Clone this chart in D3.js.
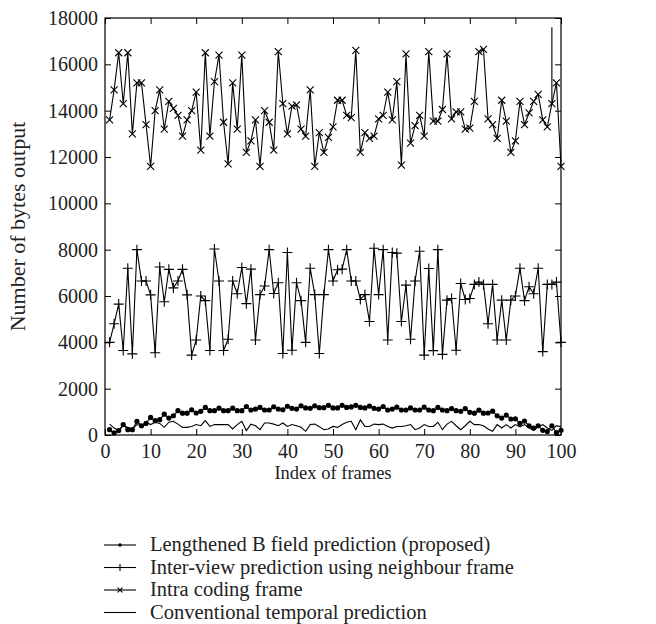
<!DOCTYPE html>
<html>
<head>
<meta charset="utf-8">
<script src="https://cdn.jsdelivr.net/npm/d3@7"></script>
<style>
  body { margin: 0; background: #fff; }
  svg { display: block; }
  text { font-family: "Liberation Serif", "DejaVu Serif", serif; fill: #222; }
</style>
</head>
<body>
<svg id="chart" width="656" height="624"></svg>
<script>
// frame indices 1..100
const frames = d3.range(1, 101);

const intraValues = [
  13600, 14900, 16500, 14300, 16500, 13000, 15200, 15200, 13400, 11600,
  14000, 14900, 13200, 14400, 14100, 13800, 12900, 13600, 14000, 14800,
  12300, 16500, 12900, 15250, 16400, 13500, 11700, 15200, 13200, 16400,
  12200, 12700, 13600, 11600, 14000, 13500, 12300, 16550, 14300, 13000,
  14200, 14250, 13200, 12900, 14900, 11600, 13050, 12200, 12850, 13300,
  14450, 14450, 13800, 13700, 16600, 12200, 13050, 12800, 12900, 13650,
  13800, 14800, 13600, 15250, 11650, 16450, 12600, 13350, 13800, 12900,
  16550, 13550, 13550, 14050, 16450, 13650, 13950, 13950, 13200, 13250,
  14400, 16550, 16650, 13650, 13400, 12800, 14450, 13550, 12200, 12700,
  14400, 13400, 13900, 14400, 14700, 13600, 13300, 14300, 15200, 11600
];

const interValues = [
  4000, 4800, 5650, 3650, 7200, 3500, 8000, 6650, 6650, 6050,
  3550, 7250, 5750, 7150, 6350, 6650, 7150, 6050, 3450, 4100,
  6000, 5800, 3650, 8030, 6650, 3650, 4130, 6650, 6100, 7230,
  5670, 7160, 4100, 6060, 6430, 8000, 6110, 6570, 3520, 7880,
  3660, 6570, 5800, 4000, 7200, 6060, 3520, 6060, 8000, 6650,
  7130, 7160, 8000, 6650, 6650, 5850, 6060, 4900, 8060, 6060,
  8000, 4100, 7880, 7850, 4900, 6470, 4130, 6650, 7930, 3450,
  7190, 3640, 8000, 3480, 5820, 5890, 3660, 6540, 5850, 5890,
  6500, 6600, 6500, 4800, 6500, 4100, 5820, 4100, 5820, 6000,
  7200, 5800, 6400, 6100, 7200, 3600, 6500, 6500, 6600, 4000
];

const lengthenedValues = [
  230, 90, 190, 450, 230, 230, 590, 400, 500, 760,
  620, 660, 900, 730, 830, 1050, 940, 940, 1090, 950,
  1020, 1190, 1050, 1050, 1160, 1050, 1050, 1160, 1050, 1050,
  1230, 1080, 1120, 1190, 1080, 1080, 1220, 1120, 1090, 1240,
  1150, 1120, 1260, 1170, 1150, 1260, 1180, 1180, 1280, 1170,
  1170, 1280, 1190, 1210, 1280, 1190, 1170, 1250, 1150, 1120,
  1230, 1080, 1120, 1200, 1080, 1080, 1170, 1080, 1080, 1200,
  1080, 1050, 1190, 1080, 1050, 1140, 1050, 1020, 1140, 980,
  940, 1070, 940, 950, 1030, 830, 730, 860, 690, 700,
  500, 600, 400, 300, 400, 200, 150, 400, 100, 200
];

const conventionalValues = [
  470, 300, 190, 400, 330, 260, 450, 400, 550, 450,
  550, 500, 330, 550, 590, 470, 330, 330, 370, 450,
  400, 620, 370, 450, 450, 450, 450, 260, 450, 590,
  190, 470, 400, 230, 520, 520, 470, 400, 520, 370,
  450, 400, 330, 160, 450, 470, 360, 230, 260, 370,
  330, 450, 550, 590, 230, 650, 370, 370, 470, 450,
  470, 370, 300, 370, 370, 400, 450, 230, 300, 450,
  370, 370, 550, 230, 470, 590, 400, 230, 400, 590,
  450, 450, 400, 260, 160, 450, 300, 450, 300, 450,
  350, 450, 300, 200, 350, 450, 300, 200, 400, 350
];

// stray vertical stroke in the intra series near the right edge
const intraSpike = { frame: 98, from: 14300, to: 17600 };

const xTicks = d3.range(0, 101, 10);
const yTicks = d3.range(0, 18001, 2000);

const legendLabels = [
  'Lengthened B field prediction (proposed)',
  'Inter-view prediction using neighbour frame',
  'Intra coding frame',
  'Conventional temporal prediction'
];

const margin = { left: 105, right: 95, top: 18, bottom: 189 };
const width = 656, height = 624;
const plotW = width - margin.left - margin.right;
const plotH = height - margin.top - margin.bottom;

const svg = d3.select('#chart');
const g = svg.append('g').attr('transform', `translate(${margin.left},${margin.top})`);

const x = d3.scaleLinear().domain([0, 100]).range([0, plotW]);
const y = d3.scaleLinear().domain([0, 18000]).range([plotH, 0]);

// frame with inward ticks on every side
g.append('rect')
  .attr('width', plotW).attr('height', plotH)
  .attr('fill', 'none').attr('stroke', '#000').attr('stroke-width', 1.2);

const axisStyle = sel => {
  sel.select('.domain').remove();
  sel.selectAll('.tick line').attr('stroke', '#000').attr('stroke-width', 1);
  sel.selectAll('.tick text').attr('font-size', '20px').attr('fill', '#222')
    .attr('font-family', '"Liberation Serif", serif');
};

g.append('g').attr('transform', `translate(0,${plotH})`)
  .call(d3.axisBottom(x).tickValues(xTicks).tickFormat(d3.format('d'))
    .tickSizeInner(-6).tickSizeOuter(0).tickPadding(9))
  .call(axisStyle);
g.append('g')
  .call(d3.axisTop(x).tickValues(xTicks).tickSizeInner(-6).tickSizeOuter(0).tickFormat(''))
  .call(axisStyle);
g.append('g')
  .call(d3.axisLeft(y).tickValues(yTicks).tickFormat(d3.format('d'))
    .tickSizeInner(-6).tickSizeOuter(0).tickPadding(7))
  .call(axisStyle);
g.append('g').attr('transform', `translate(${plotW},0)`)
  .call(d3.axisRight(y).tickValues(yTicks).tickSizeInner(-6).tickSizeOuter(0).tickFormat(''))
  .call(axisStyle);

// axis titles
svg.append('text')
  .attr('x', margin.left + plotW / 2).attr('y', 479)
  .attr('text-anchor', 'middle').attr('font-size', '18.5px')
  .text('Index of frames');
svg.append('text')
  .attr('transform', `translate(25,${margin.top + plotH / 2}) rotate(-90)`)
  .attr('text-anchor', 'middle').attr('font-size', '22px')
  .text('Number of bytes output');

const line = d3.line().x(d => x(d[0])).y(d => y(d[1]));

const series = [
  { values: lengthenedValues, marker: 'dot' },
  { values: interValues, marker: 'plus' },
  { values: intraValues, marker: 'cross' },
  { values: conventionalValues, marker: 'none' }
];

const drawMarker = (sel, type, k = 1) => {
  if (type === 'dot') {
    sel.append('circle').attr('r', 2.6 * k).attr('fill', '#000');
  } else if (type === 'plus') {
    sel.append('path').attr('d', `M${-5 * k},0H${5 * k}M0,${-5 * k}V${5 * k}`)
      .attr('stroke', '#000').attr('stroke-width', 1.1);
  } else if (type === 'cross') {
    sel.append('path').attr('d', `M${-3.5 * k},${-3.5 * k}L${3.5 * k},${3.5 * k}M${-3.5 * k},${3.5 * k}L${3.5 * k},${-3.5 * k}`)
      .attr('stroke', '#000').attr('stroke-width', 1.1);
  }
};

series.forEach(s => {
  const pts = frames.map((f, i) => [f, s.values[i]]);
  g.append('path').datum(pts)
    .attr('d', line).attr('fill', 'none')
    .attr('stroke', '#000').attr('stroke-width', 1.1);
  if (s.marker !== 'none') {
    g.append('g').selectAll('g').data(pts).join('g')
      .attr('transform', d => `translate(${x(d[0])},${y(d[1])})`)
      .each(function () { drawMarker(d3.select(this), s.marker); });
  }
});

g.append('line')
  .attr('x1', x(intraSpike.frame)).attr('x2', x(intraSpike.frame))
  .attr('y1', y(intraSpike.from)).attr('y2', y(intraSpike.to))
  .attr('stroke', '#000').attr('stroke-width', 1.1);

// legend
const legend = svg.append('g').attr('transform', 'translate(104,545)');
series.forEach((s, i) => {
  const row = legend.append('g').attr('transform', `translate(0,${i * 22.5})`);
  row.append('line').attr('x1', 0).attr('x2', 32).attr('stroke', '#000').attr('stroke-width', 1.1);
  const m = row.append('g').attr('transform', 'translate(16,0)');
  drawMarker(m, s.marker, 0.7);
  row.append('text').attr('x', 46).attr('y', 6).attr('font-size', '20.5px').text(legendLabels[i]);
});
</script>
</body>
</html>
